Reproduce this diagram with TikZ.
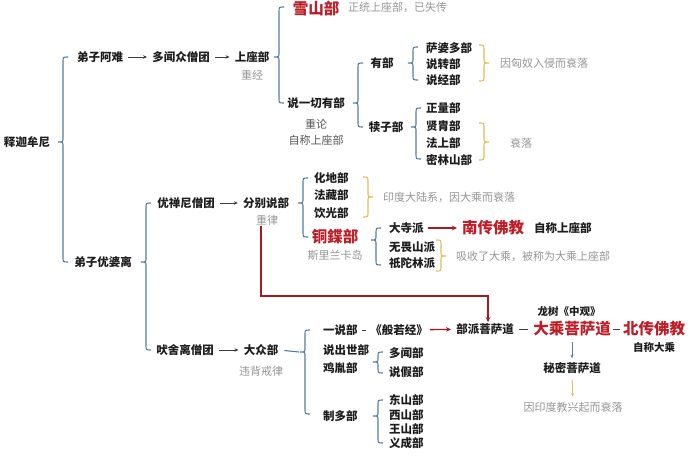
\documentclass[tikz,border=0pt]{standalone}
\usepackage{fontspec}
\setmainfont{Noto Sans CJK SC}
\usetikzlibrary{arrows.meta}
\definecolor{txtblack}{RGB}{30,30,30}
\definecolor{txtgray}{RGB}{150,150,150}
\definecolor{txtdark}{RGB}{85,85,85}
\definecolor{txtred}{RGB}{190,30,40}
\definecolor{linered}{RGB}{170,25,35}
\definecolor{braceblue}{RGB}{84,125,160}
\definecolor{braceyellow}{RGB}{222,190,90}
\definecolor{arrowgray}{RGB}{60,60,60}
\newcommand{\bracL}[5][brb]{\draw[#1] ({#2+5},#3) .. controls (#2,#3) .. (#2,{#3+5}) -- (#2,{#4-4}) .. controls (#2,#4) .. ({#2-5},#4) .. controls (#2,#4) .. (#2,{#4+4}) -- (#2,{#5-5}) .. controls (#2,#5) .. ({#2+5},#5);}
\newcommand{\bracR}[5][bry]{\draw[#1] ({#2-5},#3) .. controls (#2,#3) .. (#2,{#3+5}) -- (#2,{#4-4}) .. controls (#2,#4) .. ({#2+5},#4) .. controls (#2,#4) .. (#2,{#4+4}) -- (#2,{#5-5}) .. controls (#2,#5) .. ({#2-5},#5);}
\begin{document}
\begin{tikzpicture}[x=1pt,y=-1pt,
  every node/.style={inner sep=1pt},
  bk/.style={font=\fontsize{11.5}{13}\selectfont\bfseries, text=txtblack},
  bks/.style={font=\fontsize{10.5}{12}\selectfont\bfseries, text=txtblack},
  gy/.style={font=\fontsize{11}{13}\selectfont, text=txtgray},
  dk/.style={font=\fontsize{11}{13}\selectfont, text=txtdark},
  rd/.style={font=\fontsize{15.5}{17}\selectfont\bfseries, text=txtred},
  ar/.style={-{Stealth[length=4pt,width=3.5pt]}, line width=0.8pt, draw=arrowgray, shorten <=4pt, shorten >=4pt},
  shortln/.style={line width=0.8pt, draw=arrowgray, shorten <=3pt, shorten >=3pt},
  rar/.style={-{Stealth[length=5pt,width=4.5pt]}, line width=1.3pt, draw=linered},
  brb/.style={draw=braceblue, line width=1.1pt},
  bry/.style={draw=braceyellow, line width=1.1pt},
  bar/.style={-{Stealth[length=3.5pt,width=3pt]}, line width=0.8pt, draw=braceblue},
  yar/.style={-{Stealth[length=3.5pt,width=3pt]}, line width=0.8pt, draw=braceyellow}]
\useasboundingbox[fill=white] (0,0) rectangle (700,470);

% upper branch
\node[bk] (sj) at (27,142) {释迦牟尼};
\node[bk] (dzan) at (100,57) {弟子阿难};
\node[bk] (dwz) at (181,57) {多闻众僧团};
\node[bk] (szb) at (252,57) {上座部};
\node[gy] (zj) at (252,75) {重经};
\node[rd] (xs) at (316,9) {雪山部};
\node[gy,anchor=west] (zt) at (347,7) {正统上座部，已失传};
\node[bk] (syq) at (316,103) {说一切有部};
\node[dk] (zl1) at (316,124) {重论};
\node[dk] (zc1) at (316,140) {自称上座部};
\node[bk] (yb) at (382,63) {有部};
\node[bk,anchor=west] (spd) at (425,48) {萨婆多部};
\node[bk,anchor=west] (szhb) at (425,64) {说转部};
\node[bk,anchor=west] (sjb) at (425,80) {说经部};
\node[gy,anchor=west] (xn) at (499,63) {因匈奴入侵而衰落};
\node[bk] (dzb) at (386,127) {犊子部};
\node[bk,anchor=west] (zlb) at (425,108) {正量部};
\node[bk,anchor=west] (xzb) at (425,126) {贤胄部};
\node[bk,anchor=west] (fsb) at (425,143) {法上部};
\node[bk,anchor=west] (mls) at (425,160) {密林山部};
\node[gy,anchor=west] (sl) at (509,143) {衰落};

\draw[ar] (dzan) -- (dwz);
\draw[ar] (dwz) -- (szb);
\bracL{63}{57}{142}{262}
\bracL{279}{7}{57}{103}
\bracL{358}{63}{103}{127}
\bracL{413}{47}{63}{80}
\bracL{416}{108}{127}{159}
\bracR{484}{45}{63}{81}
\bracR{484}{123}{142}{160}

% middle branch
\node[bk] (dzyp) at (103,262) {弟子优婆离};
\node[bk] (yct) at (186,203) {优禅尼僧团};
\node[bk] (fbs) at (266,203) {分别说部};
\node[gy] (zl) at (267,220) {重律};
\node[bk,anchor=west] (hdb) at (313,178) {化地部};
\node[bk,anchor=west] (fzb) at (313,195) {法藏部};
\node[bk,anchor=west] (ygb) at (313,213) {饮光部};
\node[gy,anchor=west] (yd) at (382,197) {印度大陆系，因大乘而衰落};
\node[rd] (tlb) at (335,237) {铜鍱部};
\node[gy] (slk) at (335,255) {斯里兰卡岛};
\node[bk,anchor=west] (dsp) at (388,228) {大寺派};
\node[rd,anchor=west] (nc) at (461,228) {南传佛教};
\node[bk,anchor=west] (zcs) at (533,228) {自称上座部};
\node[bk,anchor=west] (wws) at (388,247) {无畏山派};
\node[bk,anchor=west] (qtl) at (388,263) {祇陀林派};
\node[gy,anchor=west] (xsh) at (455,256) {吸收了大乘，被称为大乘上座部};

\draw[ar] (yct) -- (fbs);
\draw[rar, shorten <=3pt, shorten >=4pt] (dsp) -- (nc);
\bracL{146}{203}{262}{350}
\bracL{303}{178}{203}{237}
\bracR{368}{177}{197}{217}
\bracL{376}{228}{240}{265}
\bracR{441}{240}{256}{271}

% lower branch
\node[bk] (wsl) at (185,350) {吠舍离僧团};
\node[bk] (dzb2) at (261,350) {大众部};
\node[gy] (wb) at (261,371) {违背戒律};
\node[bk,anchor=west] (ysb) at (322,330) {一说部};
\node[bk] (brj) at (399,330) {《般若经》};
\node[bk] (bpd) at (485,329) {部派菩萨道};
\node[bks] (lszg) at (569,312) {龙树《中观》};
\node[rd] (dcp) at (572,329) {大乘菩萨道};
\node[rd] (bc) at (654,329) {北传佛教};
\node[bks] (zcdc) at (654,347) {自称大乘};
\node[bk] (mmp) at (572,368) {秘密菩萨道};
\node[gy] (yjs) at (573,407) {因印度教兴起而衰落};
\node[bk,anchor=west] (scs) at (322,350) {说出世部};
\node[bk,anchor=west] (jyb) at (322,368) {鸡胤部};
\node[bk,anchor=west] (dwb) at (388,353) {多闻部};
\node[bk,anchor=west] (sjb2) at (388,372) {说假部};
\node[bk,anchor=west] (zdb) at (322,416) {制多部};
\node[bk,anchor=west] (dsb) at (388,400) {东山部};
\node[bk,anchor=west] (xsb2) at (388,415) {西山部};
\node[bk,anchor=west] (wsb) at (388,429) {王山部};
\node[bk,anchor=west] (ycb) at (388,443) {义成部};

\draw[ar] (wsl) -- (dzb2);
\draw[brb, shorten <=5pt] (dzb2.east) -- (299,352);
\draw[shortln] (ysb) -- (brj);
\draw[rar, shorten <=1pt, shorten >=4pt] (brj) -- (bpd);
\draw[shortln, shorten <=4pt, shorten >=4pt] (bpd) -- (dcp);
\draw[shortln, shorten <=1pt, shorten >=2pt] (dcp) -- (bc);
\draw[bar, shorten <=4pt, shorten >=3pt] (dcp) -- (mmp);
\draw[yar, shorten <=5pt, shorten >=4pt] (mmp) -- (yjs);
\bracL{305}{330}{352}{414}
\bracL{378}{352}{362}{373}
\bracL{378}{400}{416}{443}

% red connector
\coordinate (zs) at ([xshift=-6pt]zl.south);
\coordinate (mid) at (488,296);
\draw[rar] (zs) |- (mid) -- (mid |- bpd.north);
\end{tikzpicture}
\end{document}
